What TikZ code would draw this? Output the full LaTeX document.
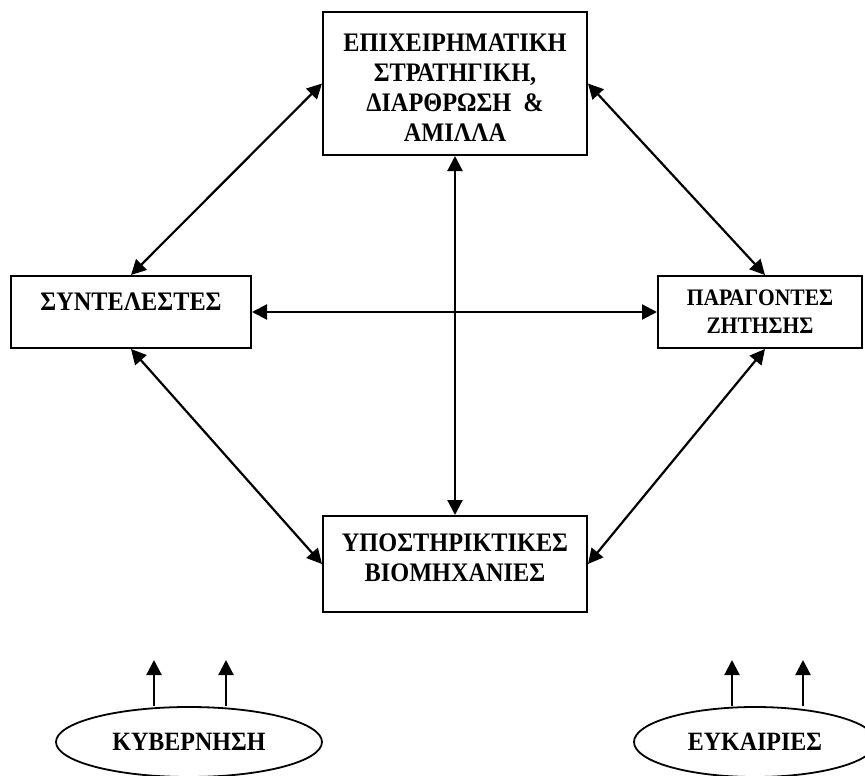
\documentclass[tikz,border=0pt]{standalone}
\usepackage{fontspec}
\setmainfont{Liberation Serif}
\usetikzlibrary{arrows.meta,shapes.geometric}

% slightly tall bold capitals
\newcommand\tallcaps[1]{\scalebox{1}[1.1]{#1}}

\tikzset{
  box/.style={draw, line width=2pt, rectangle, inner sep=0pt},
  lbl/.style={align=center, inner sep=0pt,
              font=\fontsize{24.3}{30}\selectfont\bfseries},
  oval/.style={draw, line width=1.8pt, ellipse, inner sep=0pt,
               font=\fontsize{24}{30}\selectfont\bfseries},
  link/.style={line width=2.2pt, {Triangle[length=15pt,width=15pt]}-{Triangle[length=15pt,width=15pt]}},
  up/.style={line width=2.2pt, -{Triangle[length=15pt,width=15pt]}}
}

\begin{document}
\begin{tikzpicture}[x=1pt,y=-1pt]
  \useasboundingbox (0,0) rectangle (865,776);

  % the four boxes of the diamond
  \node[box, minimum width=264pt, minimum height=143pt] (strat) at (455,83.5) {};
  \node[box, minimum width=240pt, minimum height=72pt] (synt) at (131,312) {};
  \node[box, minimum width=204pt, minimum height=72pt] (zit) at (760,312) {};
  \node[box, minimum width=264pt, minimum height=96pt] (ypo) at (455,564) {};

  % their texts
  \node[lbl] (stratT) at ([yshift=-4pt]strat.center)
    {\tallcaps{ΕΠΙΧΕΙΡΗΜΑΤΙΚΗ}\\\tallcaps{ΣΤΡΑΤΗΓΙΚΗ,}\\\tallcaps{ΔΙΑΡΘΡΩΣΗ \ \&}\\\tallcaps{ΑΜΙΛΛΑ}};
  \node[lbl] (syntT) at ([yshift=10pt]synt.center) {\tallcaps{ΣΥΝΤΕΛΕΣΤΕΣ}};
  \node[lbl, font=\fontsize{21.5}{28}\selectfont\bfseries] (zitT) at (zit.center)
    {\tallcaps{ΠΑΡΑΓΟΝΤΕΣ}\\\tallcaps{ΖΗΤΗΣΗΣ}};
  \node[lbl] (ypoT) at ([yshift=6pt]ypo.center)
    {\tallcaps{ΥΠΟΣΤΗΡΙΚΤΙΚΕΣ}\\\tallcaps{ΒΙΟΜΗΧΑΝΙΕΣ}};

  % outside influences
  \node[oval, minimum width=266pt, minimum height=70pt] (kyv) at (189,742) {\tallcaps{ΚΥΒΕΡΝΗΣΗ}};
  \node[oval, minimum width=242pt, minimum height=70pt] (euk) at (755,742) {\tallcaps{ΕΥΚΑΙΡΙΕΣ}};

  % two-way links
  \draw[link] (strat.west) -- (synt.north);
  \draw[link] (strat.east) -- ([xshift=5pt]zit.north);
  \draw[link] (synt.south) -- (ypo.west);
  \draw[link] ([xshift=5pt]zit.south) -- (ypo.east);
  \draw[link] (synt.east) -- (zit.west);
  \draw[link] (strat.south) -- (ypo.north);

  % arrows rising from the ovals
  \coordinate (k1) at (154,660);
  \coordinate (k2) at (226,660);
  \coordinate (e1) at (732,660);
  \coordinate (e2) at (803,660);
  \draw[up] (kyv.north -| k1) -- (k1);
  \draw[up] (kyv.north -| k2) -- (k2);
  \draw[up] (euk.north -| e1) -- (e1);
  \draw[up] (euk.north -| e2) -- (e2);
\end{tikzpicture}
\end{document}
